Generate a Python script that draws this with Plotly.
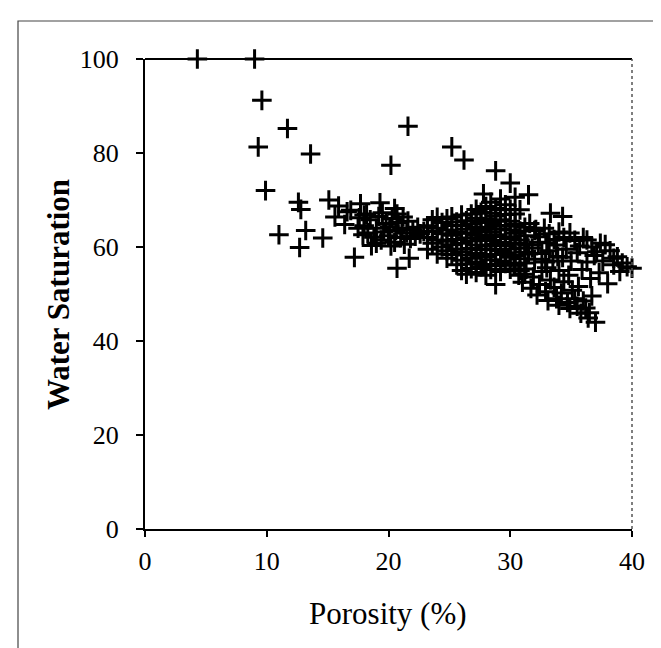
import plotly.graph_objects as go

# Sparse points (porosity %, water saturation)
sparse_x = [4.3, 9.0, 9.6, 11.7, 9.3, 13.6, 9.9, 12.6, 12.8, 11.0, 13.2, 14.6, 12.7,
            15.1, 15.9, 16.6, 17.7, 19.3, 20.5, 16.9, 16.4, 15.6, 17.2, 21.7, 20.7,
            20.2, 21.6, 25.2, 26.2, 28.8, 30.0, 27.8, 31.5, 28.8]
sparse_y = [100, 100, 91.2, 85.2, 81.3, 79.8, 72.0, 69.5, 68.0, 62.6, 63.5, 61.9, 59.9,
            70.0, 68.7, 67.5, 69.2, 69.4, 68.2, 67.8, 64.8, 66.4, 57.8, 57.6, 55.5,
            77.4, 85.7, 81.3, 78.5, 76.2, 73.6, 71.3, 71.1, 52.0]

# Cluster around 18-23 % porosity
clusterA_x = [17.6, 18.0, 18.3, 18.5, 18.8, 19.0, 19.2, 19.4, 19.6, 19.8, 20.0, 20.1, 20.3,
              20.5, 20.6, 20.8, 21.0, 21.1, 21.3, 21.5, 21.6, 21.8, 22.0, 22.2, 22.4, 22.6,
              22.9, 17.9, 18.2, 19.5, 20.7, 21.2, 19.0, 20.2, 18.6, 17.5, 18.0]
clusterA_y = [66.2, 64.5, 63.0, 65.8, 62.1, 64.0, 66.5, 61.5, 63.2, 65.0, 62.4, 64.3, 66.0,
              61.0, 63.5, 65.2, 62.0, 64.0, 60.6, 63.0, 65.5, 61.8, 63.6, 62.3, 64.2, 62.8,
              63.3, 62.6, 67.0, 67.3, 67.0, 66.4, 60.8, 60.2, 60.3, 64.0, 66.8]

# Cluster around 23-31 % porosity
clusterB_x = [23.2, 23.2, 23.2, 23.6, 23.6, 23.6, 24.0, 24.0, 24.0, 24.0, 24.4, 24.4, 24.4,
              24.8, 24.8, 24.8, 24.8, 24.8, 25.2, 25.2, 25.2, 25.2, 25.2,
              25.6, 25.6, 25.6, 25.6, 25.6, 26.0, 26.0, 26.0, 26.0, 26.0, 26.0, 26.0,
              26.4, 26.4, 26.4, 26.4, 26.4, 26.4, 26.8, 26.8, 26.8, 26.8, 26.8, 26.8, 26.8,
              27.2, 27.2, 27.2, 27.2, 27.2, 27.2, 27.2, 27.2,
              27.6, 27.6, 27.6, 27.6, 27.6, 27.6, 27.6,
              28.0, 28.0, 28.0, 28.0, 28.0, 28.0, 28.0, 28.0,
              28.4, 28.4, 28.4, 28.4, 28.4, 28.4, 28.4, 28.4,
              28.8, 28.8, 28.8, 28.8, 28.8, 28.8, 28.8,
              29.2, 29.2, 29.2, 29.2, 29.2, 29.2, 29.2, 29.2,
              29.6, 29.6, 29.6, 29.6, 29.6, 29.6, 29.6,
              30.0, 30.0, 30.0, 30.0, 30.0, 30.0, 30.0,
              30.4, 30.4, 30.4, 30.4, 30.4, 30.4, 30.4,
              30.8, 30.8, 30.8, 30.8, 30.8, 30.8,
              31.2, 31.2, 31.2, 31.2, 31.2, 31.2]
clusterB_y = [62.0, 64.5, 59.5, 60.8, 63.3, 65.8, 58.5, 61.5, 64.0, 66.3, 60.0, 62.8, 65.2,
              57.6, 59.2, 61.2, 63.6, 66.0, 58.4, 60.5, 62.5, 64.6, 66.4,
              56.2, 59.6, 61.6, 63.2, 65.3, 55.0, 57.2, 59.0, 60.8, 62.9, 64.5, 66.8,
              54.2, 56.4, 58.3, 61.9, 63.8, 65.6, 55.4, 57.6, 59.7, 61.3, 63.0, 64.9, 67.0,
              54.6, 56.8, 58.6, 60.4, 62.5, 64.2, 66.1, 68.0,
              55.8, 57.9, 59.4, 61.6, 63.5, 65.4, 67.4,
              54.0, 56.3, 58.0, 60.2, 62.0, 64.0, 66.0, 68.6,
              55.2, 57.3, 59.5, 61.4, 63.2, 65.2, 67.2, 69.5,
              56.0, 58.4, 60.6, 62.6, 64.6, 66.6, 68.2,
              54.8, 57.0, 59.2, 61.0, 63.8, 65.8, 67.9, 70.2,
              56.5, 58.8, 60.3, 62.2, 64.4, 66.9, 69.0,
              55.3, 57.8, 59.6, 61.8, 63.6, 65.5, 68.0,
              56.1, 58.2, 60.8, 62.9, 64.8, 67.0, 70.6,
              55.0, 57.5, 59.8, 61.5, 63.4, 67.9,
              54.2, 56.6, 58.9, 60.6, 62.4, 64.2]

# Points beyond 31 % porosity (upper and lower bands)
clusterC_x = [33.3, 34.3, 31.6, 32.0, 32.4, 32.1, 32.8, 33.2, 33.6, 34.0, 34.4, 34.9, 35.3,
              35.7, 36.0, 36.3, 36.7, 37.1, 37.4, 37.8, 38.2, 38.5, 38.8, 39.2, 39.6, 40.0,
              38.5, 39.0, 37.6, 36.9, 35.5, 34.6, 33.8, 33.0, 32.3,
              38.0, 36.6, 37.3, 35.9, 36.3, 35.0, 34.3,
              30.3, 30.7, 31.0, 31.3, 31.7, 31.9, 32.2, 32.4, 32.6, 32.9, 33.1, 33.3, 33.6,
              33.8, 34.0, 34.2, 34.4, 34.7, 34.9, 35.1, 35.3, 35.5, 35.8, 36.0, 36.2, 36.5,
              36.7, 37.0, 36.4, 35.6, 33.0, 32.0, 31.5, 34.0, 34.8, 33.5,
              31.8, 32.6, 33.2, 33.9, 31.4, 32.9]
clusterC_y = [67.2, 66.5, 65.0, 63.5, 62.2, 63.7, 64.0, 62.8, 61.6, 63.2, 62.0, 63.0, 61.4,
              60.2, 62.0, 61.5, 60.0, 59.0, 60.8, 60.5, 59.2, 57.6, 57.9, 56.6, 55.8, 55.5,
              56.2, 54.8, 57.0, 58.2, 58.8, 59.5, 60.4, 60.9, 61.0,
              52.2, 53.3, 54.5, 55.2, 56.8, 57.0, 57.8,
              56.2, 54.0, 52.5, 55.3, 51.2, 53.6, 49.8, 52.0, 54.8, 50.5, 48.6, 53.0, 51.4,
              49.0, 47.6, 50.2, 52.6, 48.2, 46.9, 50.8, 49.0, 47.4, 45.9, 48.5, 47.0, 46.0,
              49.6, 44.0, 44.9, 51.6, 55.6, 57.4, 58.5, 55.0, 54.0, 57.0,
              59.8, 58.6, 59.2, 58.0, 60.5, 56.8]

porosity = sparse_x + clusterA_x + clusterB_x + clusterC_x
saturation = sparse_y + clusterA_y + clusterB_y + clusterC_y

x_ticks = [0, 10, 20, 30, 40]
y_ticks = [0, 20, 40, 60, 80, 100]

FONT = "Liberation Serif"

fig = go.Figure()
fig.add_trace(go.Scatter(
    x=porosity, y=saturation, mode="markers",
    marker=dict(symbol="cross-thin", size=14, color="black",
                line=dict(color="black", width=3)),
    cliponaxis=False, showlegend=False, hoverinfo="x+y",
))

W, H = 661, 648
L, R, T, B = 137, 624, 51, 521
pw, ph = R - L, B - T

def px(xp):
    return (xp - L) / pw

def py(yp):
    return (B - yp) / ph

fig.update_layout(
    width=W, height=H,
    margin=dict(l=L, r=W - R, t=T, b=H - B),
    paper_bgcolor="white", plot_bgcolor="white",
    font=dict(family=FONT, color="black", size=26),
    xaxis=dict(range=[0, 40], tickvals=x_ticks, ticktext=[str(v) for v in x_ticks],
               showgrid=False, zeroline=False, showline=True, linecolor="black",
               linewidth=2, ticks="outside", ticklen=6, tickwidth=1.5, tickcolor="black",
               tickfont=dict(family=FONT, size=26), ticklabelstandoff=2),
    yaxis=dict(range=[0, 100], tickvals=y_ticks, ticktext=[str(v) for v in y_ticks],
               showgrid=False, zeroline=False, showline=True, linecolor="black",
               linewidth=2, ticks="outside", ticklen=7, tickwidth=1.5, tickcolor="black",
               tickfont=dict(family=FONT, size=26), ticklabelstandoff=12),
    shapes=[
        dict(type="line", xref="paper", yref="paper", x0=0, x1=1, y0=1, y1=1,
             line=dict(color="black", width=2)),
        dict(type="line", xref="paper", yref="paper", x0=1, x1=1, y0=0, y1=1,
             line=dict(color="#555555", width=1.5, dash="dot")),
        dict(type="rect", xref="paper", yref="paper",
             x0=px(10), x1=px(653), y0=py(641), y1=py(13),
             line=dict(color="#444444", width=1.2), layer="below"),
    ],
    annotations=[
        dict(text="<b>Water Saturation</b>", xref="paper", yref="paper",
             x=px(50), y=py(287), textangle=-90, showarrow=False,
             font=dict(family=FONT, size=31), xanchor="center", yanchor="middle"),
        dict(text="Porosity (%)", xref="paper", yref="paper",
             x=px(380), y=py(605), showarrow=False,
             font=dict(family=FONT, size=31), xanchor="center", yanchor="middle"),
    ],
)

fig.write_html("out.html")
